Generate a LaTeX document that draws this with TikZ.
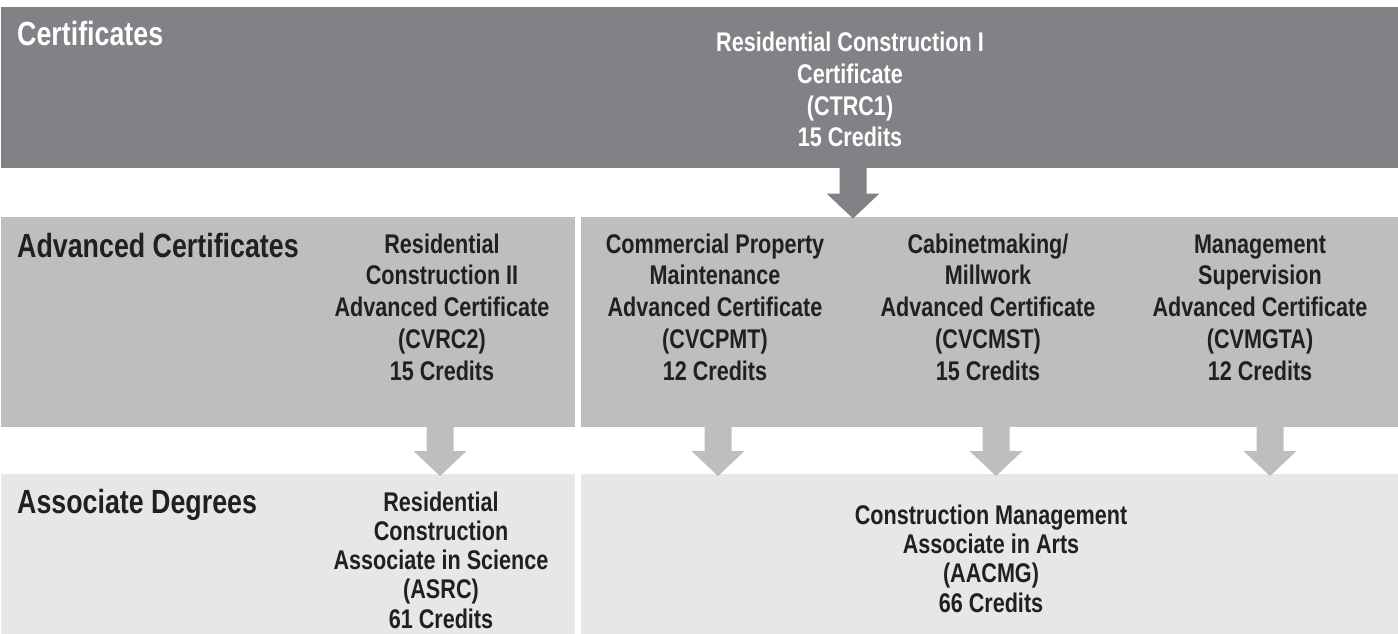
\documentclass[tikz,border=0pt]{standalone}
\usepackage{fontspec}
\newfontfamily\condfont{Liberation Sans}[FakeStretch=0.8]
\usetikzlibrary{calc}
\definecolor{darkband}{HTML}{808285}
\definecolor{midband}{HTML}{BCBEC0}
\definecolor{lowband}{HTML}{E6E7E8}
\definecolor{inktext}{HTML}{231F20}
\newcommand\blockarrow[3]{%
  \fill[#1] ($(#2)+(-13.5,0)$) -- ($(#3)+(-13.5,-25)$) -- ($(#3)+(-26.5,-25)$) -- (#3)
    -- ($(#3)+(26.5,-25)$) -- ($(#3)+(13.5,-25)$) -- ($(#2)+(13.5,0)$) -- cycle;}
\tikzset{
  band/.style={draw=none, inner sep=0pt, outer sep=0pt, anchor=north west},
  bodytext/.style={align=center, inner sep=0pt, anchor=base, text=inktext,
    font=\condfont\bfseries\fontsize{27bp}{31.75bp}\selectfont},
  lowtext/.style={bodytext, font=\condfont\bfseries\fontsize{27bp}{29.2bp}\selectfont},
  headtext/.style={inner sep=0pt, anchor=base west, text=inktext,
    font=\condfont\bfseries\fontsize{33.5bp}{38bp}\selectfont},
}
\begin{document}
\begin{tikzpicture}[x=1bp,y=-1bp]
\useasboundingbox (0,0) rectangle (1398,634);
% bands
\node[band, fill=darkband, minimum width=1397bp, minimum height=161bp] (topband) at (1,7) {};
\node[band, fill=midband, minimum width=574bp, minimum height=210bp] (midleft) at (1,217) {};
\node[band, fill=midband, minimum width=817bp, minimum height=210bp] (midright) at (581,217) {};
\node[band, fill=lowband, minimum width=574bp, minimum height=160bp] (lowleft) at (1,474) {};
\node[band, fill=lowband, minimum width=817bp, minimum height=160bp] (lowright) at (581,474) {};
% headings
\node[headtext, text=white] (hcert) at (17,46) {Certificates};
\node[headtext] (hadv) at (17,257) {Advanced Certificates};
\node[headtext] (hassoc) at (17,513) {Associate Degrees};
% programs (anchor = baseline of last line)
\node[bodytext, text=white] (ctrc1) at (850,147) {Residential Construction I\\Certificate\\(CTRC1)\\15 Credits};
\node[bodytext] (cvrc2) at (442,380) {Residential\\Construction II\\Advanced Certificate\\(CVRC2)\\15 Credits};
\node[bodytext] (cvcpmt) at (715,380) {Commercial Property\\Maintenance\\Advanced Certificate\\(CVCPMT)\\12 Credits};
\node[bodytext] (cvcmst) at (988,380) {Cabinetmaking/\\Millwork\\Advanced Certificate\\(CVCMST)\\15 Credits};
\node[bodytext] (cvmgta) at (1260,380) {Management\\Supervision\\Advanced Certificate\\(CVMGTA)\\12 Credits};
\node[lowtext] (asrc) at (441,628) {Residential\\Construction\\Associate in Science\\(ASRC)\\61 Credits};
\node[lowtext] (aacmg) at (991,612) {Construction Management\\Associate in Arts\\(AACMG)\\66 Credits};
% arrow columns
\coordinate (col0) at (853,0);
\coordinate (col1) at (440,0);
\coordinate (col2) at (718,0);
\coordinate (col3) at (996,0);
\coordinate (col4) at (1270,0);
\coordinate (a0from) at (topband.south -| col0);
\coordinate (a0to) at ($(midright.north -| col0)+(0,1.5)$);
\coordinate (a1from) at (midleft.south -| col1);
\coordinate (a1to) at ($(lowleft.north -| col1)+(0,2)$);
\coordinate (a2from) at (midright.south -| col2);
\coordinate (a2to) at ($(lowright.north -| col2)+(0,2)$);
\coordinate (a3from) at (midright.south -| col3);
\coordinate (a3to) at ($(lowright.north -| col3)+(0,2)$);
\coordinate (a4from) at (midright.south -| col4);
\coordinate (a4to) at ($(lowright.north -| col4)+(0,2)$);
\blockarrow{darkband}{a0from}{a0to}
\blockarrow{midband}{a1from}{a1to}
\blockarrow{midband}{a2from}{a2to}
\blockarrow{midband}{a3from}{a3to}
\blockarrow{midband}{a4from}{a4to}
\end{tikzpicture}
\end{document}
